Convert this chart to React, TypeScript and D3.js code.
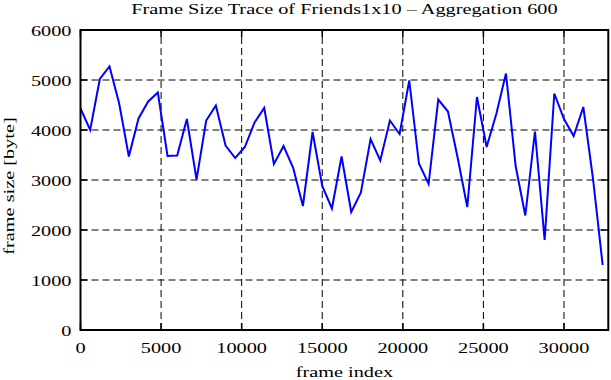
import React, {useEffect, useRef} from 'react'
import * as d3 from 'd3'

// frame size, one value per 600 frames
const frameSizes: number[] = [
	4430, 4000, 5020, 5270, 4530, 3470, 4230, 4570, 4750, 3480,
	3490, 4220, 3010, 4190, 4490, 3690, 3440, 3660, 4150, 4440,
	3320, 3680, 3240, 2480, 3960, 2880, 2430, 3470, 2360, 2750,
	3820, 3390, 4190, 3920, 4990, 3330, 2920, 4610, 4370, 3450,
	2460, 4660, 3660, 4320, 5130, 3280, 2290, 3970, 1800, 4730,
	4220, 3880, 4460, 3030, 1300
]
const aggregation = 600
const xTicks: number[] = [0, 5000, 10000, 15000, 20000, 25000, 30000]
const yTicks: number[] = [0, 1000, 2000, 3000, 4000, 5000, 6000]

const title = 'Frame Size Trace of Friends1x10 – Aggregation 600'
const xLabel = 'frame index'
const yLabel = 'frame size [byte]'

const W = 611, H = 380
const margin = {left: 80.5, right: 2.7, top: 30, bottom: 50}
const stretch = 1.45

const App = () => {
	const ref = useRef<SVGSVGElement>(null)

	useEffect(() => {
		document.body.style.margin = '0'
		const svg = d3.select(ref.current)
		svg.selectAll('*').remove()

		const x = d3.scaleLinear().domain([0, 32750]).range([margin.left, W - margin.right])
		const y = d3.scaleLinear().domain([0, 6000]).range([H - margin.bottom, margin.top])
		const [x0, x1] = x.range()
		const [y0, y1] = y.range()

		const txt = (tx: number, ty: number, s: string, anchor: string, rot = 0) => {
			svg.append('text')
				.attr('transform', `translate(${tx},${ty}) rotate(${rot}) scale(${stretch},1)`)
				.attr('text-anchor', anchor)
				.attr('font-family', '"Liberation Serif", serif')
				.attr('font-size', 14)
				.attr('fill', '#000')
				.text(s)
		}

		// grid
		const grid = svg.append('g')
			.attr('stroke', '#000')
			.attr('stroke-width', 1)
			.attr('stroke-dasharray', '7,4')
		grid.selectAll('.gx')
			.data(xTicks.filter(d => d > 0))
			.enter().append('line')
			.attr('x1', d => x(d)).attr('x2', d => x(d))
			.attr('y1', y0).attr('y2', y1)
		grid.selectAll('.gy')
			.data(yTicks.filter(d => d > 0 && d < 6000))
			.enter().append('line')
			.attr('x1', x0).attr('x2', x1)
			.attr('y1', d => y(d)).attr('y2', d => y(d))

		// ticks on all four sides
		const ticks = svg.append('g').attr('stroke', '#000').attr('stroke-width', 1.5)
		xTicks.forEach(d => {
			ticks.append('line').attr('x1', x(d)).attr('x2', x(d)).attr('y1', y0).attr('y2', y0 - 7)
			ticks.append('line').attr('x1', x(d)).attr('x2', x(d)).attr('y1', y1).attr('y2', y1 + 7)
		})
		yTicks.forEach(d => {
			ticks.append('line').attr('x1', x0).attr('x2', x0 + 7).attr('y1', y(d)).attr('y2', y(d))
			ticks.append('line').attr('x1', x1).attr('x2', x1 - 7).attr('y1', y(d)).attr('y2', y(d))
		})

		// data line
		const line = d3.line<number>()
			.x((d, i) => x(i * aggregation))
			.y(d => y(d))
		svg.append('path')
			.datum(frameSizes)
			.attr('d', line)
			.attr('fill', 'none')
			.attr('stroke', '#0000ff')
			.attr('stroke-width', 2)
			.attr('stroke-linejoin', 'miter')

		// border
		svg.append('rect')
			.attr('x', x0).attr('y', y1)
			.attr('width', x1 - x0).attr('height', y0 - y1)
			.attr('fill', 'none')
			.attr('stroke', '#000')
			.attr('stroke-width', 2)

		// labels
		xTicks.forEach(d => txt(x(d), y0 + 23, String(d), 'middle'))
		yTicks.forEach(d => txt(x0 - 9, y(d) + 6, String(d), 'end'))
		txt((x0 + x1) / 2, 14, title, 'middle')
		txt((x0 + x1) / 2, 377, xLabel, 'middle')
		txt(14, 186, yLabel, 'middle', -90)
	}, [])

	return <svg ref={ref} width={W} height={H} style={{display: 'block', background: '#fff'}} />
}

export default App
